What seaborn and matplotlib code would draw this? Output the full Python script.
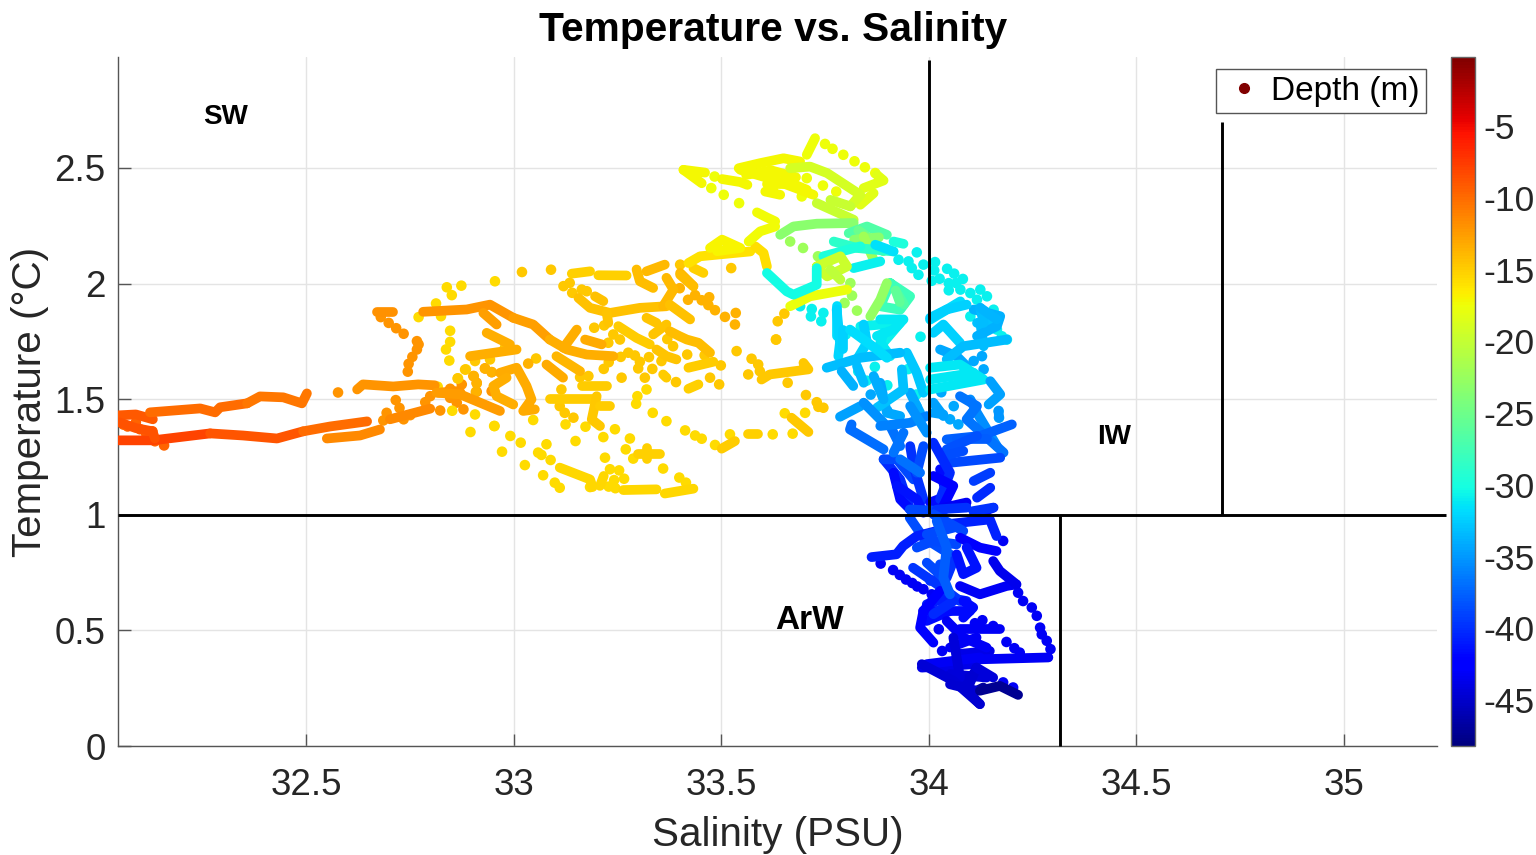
import numpy as np
import pandas as pd
import matplotlib
matplotlib.use("Agg")
import matplotlib.pyplot as plt
import seaborn as sns
from matplotlib.colors import Normalize
from matplotlib.cm import ScalarMappable
from matplotlib.lines import Line2D
from matplotlib.transforms import ScaledTranslation

# tick labels
sal_ticks = [32.5, 33, 33.5, 34, 34.5, 35]
sal_tick_labels = ["32.5", "33", "33.5", "34", "34.5", "35"]
temp_ticks = [0, 0.5, 1, 1.5, 2, 2.5]
temp_tick_labels = ["0", "0.5", "1", "1.5", "2", "2.5"]
depth_ticks = [-5, -10, -15, -20, -25, -30, -35, -40, -45]
depth_min = -48.4
depth_max = -0.4

# water mass boundaries
bound_h_sal = [32.047, 35.246]
bound_h_temp = [1, 1]
bound_sw_sal = [34, 34]
bound_sw_temp = [1, 2.968]
bound_arw_sal = [34.316, 34.316]
bound_arw_temp = [0, 1]
bound_iw_sal = [34.706, 34.706]
bound_iw_temp = [1, 2.70]

# single casts
orange_sal = [32.577, 32.686, 32.694, 32.716, 32.725, 32.735, 32.751, 32.787, 32.799, 32.823, 32.847, 32.847, 32.875,
              32.871, 32.863, 32.879, 32.903, 32.911, 32.911, 32.931, 32.947, 32.947, 32.98, 32.767, 32.771, 32.767,
              32.756, 32.747, 32.745, 32.735, 32.717, 32.699, 32.68]
orange_temp = [1.529, 1.408, 1.441, 1.496, 1.462, 1.413, 1.431, 1.487, 1.513, 1.451, 1.545, 1.506, 1.564,
               1.528, 1.485, 1.456, 1.600, 1.571, 1.532, 1.633, 1.617, 1.535, 1.722, 1.751, 1.737, 1.715,
               1.683, 1.653, 1.619, 1.783, 1.807, 1.830, 1.855]
red_sal = [32.05, 32.07, 32.09, 32.1, 32.13, 32.136, 32.158, 32.06, 32.115]
red_temp = [1.40, 1.382, 1.40, 1.37, 1.361, 1.318, 1.30, 1.39, 1.35]

yellow_sal = [32.839, 32.851, 32.874, 32.955, 32.813, 32.771, 32.825, 32.847, 32.847, 32.837, 32.845, 32.885, 32.866,
              32.817, 32.852, 32.907, 32.896, 32.954, 32.972, 32.992, 33.017, 33.047, 32.953, 33.027, 33.079, 33.071,
              33.099, 33.111, 33.059, 33.067, 33.089, 33.125, 33.173, 33.244, 33.216, 33.28, 33.149, 33.27, 33.22,
              33.288, 33.36, 33.232, 33.254, 33.242, 33.266, 33.229, 33.245, 33.399, 33.415, 33.184, 33.453, 33.437,
              33.413, 33.368, 33.335, 33.295, 33.298, 33.32, 33.485, 33.521, 33.624, 33.672, 33.653, 33.702]
yellow_temp = [1.984, 1.950, 1.991, 2.01, 1.914, 1.855, 1.859, 1.796, 1.748, 1.715, 1.667, 1.629, 1.590,
               1.554, 1.450, 1.434, 1.358, 1.384, 1.273, 1.341, 1.312, 1.41, 1.384, 1.215, 1.305, 1.171,
               1.139, 1.117, 1.269, 1.259, 1.237, 1.391, 1.381, 1.37, 1.336, 1.33, 1.319, 1.283, 1.247,
               1.243, 1.2, 1.197, 1.192, 1.15, 1.156, 1.122, 1.115, 1.161, 1.139, 1.12, 1.329, 1.343,
               1.365, 1.405, 1.441, 1.48, 1.513, 1.542, 1.302, 1.348, 1.348, 1.351, 1.439, 1.441]

gold_sal = [33.12, 33.135, 33.141, 33.164, 33.176, 33.194, 33.218, 33.24, 33.256, 33.228, 33.229, 33.217, 33.276,
            33.292, 33.258, 33.326, 33.304, 33.3, 33.334, 33.316, 33.26, 33.356, 33.391, 33.473, 33.495, 33.499,
            33.565, 33.537, 33.573, 33.589, 33.593, 33.632, 33.66, 33.704, 33.73, 33.746, 33.734, 33.16, 33.18,
            32.979, 33.054, 32.883, 32.865, 32.943, 32.907, 33.384, 33.418, 33.115, 33.111, 33.123, 33.144,
            33.401, 33.524, 33.636, 33.652, 33.632, 33.02, 33.09, 33.37, 33.46]
gold_temp = [1.989, 2.003, 1.96, 1.974, 1.967, 1.809, 1.819, 1.78, 1.758, 1.744, 1.66, 1.631, 1.701,
             1.689, 1.683, 1.682, 1.662, 1.633, 1.631, 1.593, 1.593, 1.665, 1.574, 1.593, 1.564, 1.646,
             1.607, 1.708, 1.675, 1.650, 1.621, 1.758, 1.571, 1.518, 1.487, 1.463, 1.467, 1.595, 1.6,
             1.722, 1.676, 1.628, 1.59, 1.672, 1.665, 1.729, 1.693, 1.542, 1.470, 1.441, 1.42,
             2.082, 2.067, 1.837, 1.87, 1.758, 2.05, 2.06, 1.76, 1.69]
dark_gold_sal = [33.437, 33.453, 33.471, 33.469, 33.485, 33.509, 33.535, 33.533, 33.035, 32.931, 32.947, 32.904,
                 32.911, 32.909, 33.4, 33.42]
dark_gold_temp = [1.95, 1.928, 1.941, 1.907, 1.885, 1.856, 1.873, 1.823, 1.654, 1.633, 1.617, 1.6,
                  1.568, 1.532, 1.98, 1.93]

top_yellow_sal = [33.484, 33.476, 33.543, 33.506, 33.694, 33.745, 33.777, 33.75, 33.768, 33.794, 33.821, 33.846,
                  33.871, 33.706]
top_yellow_temp = [2.463, 2.413, 2.348, 2.384, 2.377, 2.424, 2.398, 2.604, 2.583, 2.557, 2.529, 2.503,
                   2.478, 2.456]
green_sal = [33.666, 33.697, 33.733, 33.797, 33.827, 33.811, 33.815]
green_temp = [2.182, 2.154, 2.118, 1.916, 1.883, 2.002, 1.948]

cyan_sal = [33.927, 33.951, 33.971, 33.959, 33.975, 33.987, 34.015, 34.013, 34.044, 34.026, 34.061, 34.048, 34.082,
            34.066, 34.048, 34.007, 33.69, 33.718, 33.716, 33.746, 33.741, 34.124, 34.116, 34.14, 34.156, 34.164,
            34.1, 34.076, 34.1, 34.188, 34.164, 34.176, 33.8, 33.83, 33.85, 33.87, 33.9, 33.95, 33.97, 33.98]
cyan_temp = [2.103, 2.096, 2.135, 2.067, 2.038, 2.082, 2.093, 2.057, 2.064, 2.021, 2.043, 2.002, 2.02,
             2.002, 1.971, 2.012, 1.902, 1.89, 1.858, 1.873, 1.837, 1.974, 1.93, 1.945, 1.887, 1.844,
             1.858, 1.974, 1.959, 1.758, 1.801, 1.772, 1.78, 1.62, 1.58, 1.64, 1.56, 1.63, 1.52, 1.77]
sky_sal = [34.051, 34.071, 34.108, 34.128, 34.132, 34.168, 34.169, 33.9, 33.86, 33.97, 34.03, 34.06]
sky_temp = [1.413, 1.391, 1.665, 1.686, 1.629, 1.449, 1.42, 1.45, 1.52, 1.47, 1.53, 1.47]
blue_sal = [34.179, 33.884, 33.914, 33.93, 33.945, 33.96, 33.972, 33.987, 34.007, 34.111, 34.129, 34.155, 34.024,
            34.032, 34.187, 34.206, 34.035, 34.179, 34.203, 34.215, 34.227, 34.248, 34.26, 34.268, 34.272,
            34.284, 34.293, 34.219]
blue_temp = [0.887, 0.789, 0.761, 0.74, 0.72, 0.705, 0.69, 0.678, 0.656, 0.531, 0.544, 0.519, 0.505,
             0.411, 0.45, 0.423, 0.311, 0.275, 0.253, 0.663, 0.627, 0.599, 0.563, 0.512, 0.483,
             0.455, 0.419, 0.404]

# thick runs of samples: (salinity, temperature, depth)
surface_tracks = [
    ([32.047, 32.131, 32.269], [1.322, 1.322, 1.352], -8.2),
    ([32.269, 32.348, 32.43, 32.493], [1.352, 1.343, 1.33, 1.361], -9.2),
    ([32.493, 32.558, 32.647], [1.361, 1.382, 1.404], -10.2),
    ([32.047, 32.09, 32.131], [1.43, 1.434, 1.413], -9.3),
    ([32.124, 32.245, 32.281, 32.293, 32.358], [1.443, 1.460, 1.443, 1.465, 1.482], -10.2),
    ([32.358, 32.389, 32.445, 32.49, 32.502], [1.482, 1.512, 1.508, 1.482, 1.525], -10.8),
    ([32.05, 32.09, 32.13, 32.136], [1.40, 1.375, 1.361, 1.33], -9),
    ([32.55, 32.63, 32.678], [1.33, 1.343, 1.369], -11.7),
    ([32.623, 32.637, 32.71, 32.77, 32.81], [1.542, 1.564, 1.555, 1.564, 1.56], -12.4),
    ([32.67, 32.71], [1.878, 1.878], -12.2),
    ([32.702, 32.799], [1.413, 1.459], -11.8),
    ([32.819, 32.863], [1.528, 1.535], -12.2),
]
shelf_tracks = [
    ([32.782, 32.887, 32.943, 32.999], [1.878, 1.888, 1.909, 1.852], -12.4),
    ([32.999, 33.047, 33.087], [1.852, 1.823, 1.758], -12.8),
    ([33.087, 33.128, 33.176, 33.24], [1.758, 1.715, 1.693, 1.686], -13.6),
    ([33.152, 33.12], [1.801, 1.722], -13.6),
    ([32.895, 33.007], [1.686, 1.715], -13.6),
    ([32.814, 32.871, 32.967], [1.528, 1.521, 1.449], -12.6),
    ([32.935, 32.991], [1.787, 1.737], -13.6),
    ([33.079, 33.119], [1.650, 1.593], -13.4),
    ([33.103, 33.16], [1.686, 1.621], -14),
    ([33.172, 33.212], [1.758, 1.737], -13.4),
    ([32.967, 33.007, 33.031, 33.043, 33.023, 33.051], [1.614, 1.636, 1.557, 1.499, 1.449, 1.456], -13.4),
    ([32.999, 32.959, 32.951, 32.983], [1.477, 1.513, 1.557, 1.593], -13.6),
    ([32.927, 32.959], [1.873, 1.823], -12.8),
    ([33.14, 33.184], [2.043, 2.053], -15.4),
    ([33.204, 33.272], [2.036, 2.035], -15.4),
    ([33.32, 33.364], [2.053, 2.082], -14.2),
    ([33.156, 33.184, 33.232, 33.304, 33.368], [1.938, 1.895, 1.873, 1.895, 1.902], -14.6),
    ([33.296, 33.304, 33.336], [2.061, 2.01, 1.981], -14.3),
    ([33.368, 33.385, 33.36], [2.025, 1.974, 1.902], -14.2),
    ([33.401, 33.433], [2.046, 1.989], -14.1),
    ([33.376, 33.425], [1.909, 1.845], -14.5),
    ([33.196, 33.216], [1.945, 1.924], -14.5),
    ([33.224, 33.228], [1.873, 1.83], -14.7),
    ([33.252, 33.296, 33.328], [1.816, 1.765, 1.737], -15.2),
    ([33.336, 33.368], [1.78, 1.823], -14.7),
    ([33.344, 33.32], [1.83, 1.852], -14.7),
    ([33.376, 33.399, 33.417, 33.445, 33.473], [1.794, 1.773, 1.758, 1.744, 1.701], -14.3),
    ([33.344, 33.368, 33.392], [1.715, 1.686, 1.672], -14.7),
    ([33.421, 33.481], [1.636, 1.662], -15.2),
    ([33.36, 33.368], [1.607, 1.593], -15.2),
    ([33.421, 33.445], [1.545, 1.564], -15.4),
    ([33.597, 33.617, 33.71, 33.698], [1.585, 1.607, 1.629, 1.657], -15),
    ([33.669, 33.71], [1.420, 1.358], -15),
    ([33.565, 33.589], [1.348, 1.348], -15.4),
    ([33.501, 33.533], [1.286, 1.319], -15.2),
    ([33.087, 33.192], [1.499, 1.499], -15.1),
    ([33.164, 33.224], [1.557, 1.557], -15.1),
    ([33.2, 33.188, 33.208], [1.513, 1.412, 1.384], -15),
    ([33.208, 33.232], [1.470, 1.470], -15.1),
    ([33.32, 33.32], [1.29, 1.24], -15.4),
    ([33.3, 33.352], [1.261, 1.261], -15.4),
    ([33.111, 33.184, 33.19], [1.204, 1.153, 1.12], -15.6),
    ([33.208, 33.217], [1.125, 1.168], -15.6),
    ([33.264, 33.344], [1.107, 1.11], -15.7),
    ([33.364, 33.433], [1.092, 1.113], -15.7),
]
warm_tracks = [
    ([33.401, 33.433], [2.038, 1.988], -14.3),
    ([33.433, 33.457], [2.067, 2.046], -15.4),
    ([33.421, 33.449, 33.57], [2.089, 2.118, 2.139], -16.2),
    ([33.473, 33.502, 33.546, 33.49], [2.154, 2.19, 2.154, 2.14], -17.2),
    ([33.582, 33.602, 33.61], [2.161, 2.132, 2.074], -16),
    ([33.566, 33.594, 33.63], [2.182, 2.226, 2.247], -17.6),
    ([33.63, 33.61, 33.586], [2.269, 2.286, 2.308], -17.6),
    ([33.409, 33.453], [2.492, 2.434], -17.3),
    ([33.409, 33.461], [2.492, 2.48], -17.3),
    ([33.502, 33.546, 33.563], [2.452, 2.439, 2.427], -17.3),
    ([33.542, 33.594, 33.65, 33.69], [2.499, 2.521, 2.542, 2.528], -17.4),
    ([33.546, 33.626, 33.69, 33.722], [2.492, 2.449, 2.406, 2.384], -17.4),
    ([33.56, 33.62, 33.68], [2.47, 2.49, 2.46], -17.4),
    ([33.61, 33.67], [2.43, 2.43], -17.4),
    ([33.606, 33.642], [2.398, 2.384], -17.4),
    ([33.618, 33.626], [2.463, 2.398], -17.4),
    ([33.658, 33.706], [2.442, 2.406], -17.4),
    ([33.706, 33.726], [2.557, 2.629], -17.8),
    ([33.875, 33.891, 33.843], [2.47, 2.446, 2.413], -18.5),
    ([33.835, 33.867], [2.341, 2.391], -18.5),
    ([33.666, 33.714, 33.755, 33.835, 33.811], [2.499, 2.506, 2.478, 2.384, 2.334], -19.3),
    ([33.763, 33.811], [2.362, 2.334], -20),
    ([33.730, 33.819], [2.348, 2.276], -20),
    ([33.642, 33.674, 33.73, 33.819], [2.211, 2.247, 2.259, 2.262], -23.5),
    ([33.807, 33.851, 33.899], [2.218, 2.247, 2.211], -27),
    ([33.83, 33.87, 33.89], [2.23, 2.18, 2.14], -25.5),
    ([33.82, 33.88], [2.19, 2.2], -23.5),
    ([33.843, 33.867], [2.204, 2.103], -22.3),
    ([33.771, 33.827, 33.915], [2.182, 2.154, 2.139], -29),
    ([33.871, 33.915], [2.168, 2.139], -31.8),
    ([33.915, 33.939], [2.182, 2.172], -30),
    ([33.746, 33.835], [2.118, 2.161], -30),
    ([33.819, 33.883], [2.067, 2.096], -31),
    ([33.730, 33.787, 33.803, 33.755, 33.730], [2.074, 2.118, 2.074, 2.031, 2.074], -19.8),
    ([33.787, 33.763], [2.017, 2.06], -20.5),
    ([33.666, 33.714, 33.803], [1.902, 1.945, 1.974], -18),
    ([33.61, 33.658, 33.674, 33.73, 33.73], [2.046, 1.966, 1.952, 1.995, 2.067], -30.5),
    ([33.907, 33.955, 33.931, 33.883, 33.907], [2.002, 1.945, 1.887, 1.902, 2.002], -28),
    ([33.92, 33.94], [1.97, 1.91], -27),
    ([33.859, 33.883, 33.899], [1.858, 1.93, 2.002], -23),
    ([33.92, 33.93], [1.97, 1.92], -26),
]
mid_tracks = [
    ([33.779, 33.779], [1.902, 1.772], -32),
    ([33.835, 33.931, 33.883], [1.815, 1.83, 1.729], -31),
    ([34.003, 34.076], [1.844, 1.923], -32),
    ([34.116, 34.156], [1.83, 1.837], -33.3),
    ([34.124, 34.132], [1.83, 1.729], -33.5),
    ([33.778, 33.786, 33.782], [1.888, 1.744, 1.686], -32.3),
    ([33.794, 33.794], [1.801, 1.715], -32.5),
    ([33.843, 33.851, 33.827], [1.823, 1.744, 1.672], -32.5),
    ([33.891, 33.883, 33.907], [1.787, 1.744, 1.686], -31.5),
    ([33.947, 33.971, 33.987], [1.701, 1.614, 1.528], -33),
    ([33.883, 33.899, 33.931], [1.571, 1.441, 1.427], -34.5),
    ([33.955, 33.979], [1.528, 1.441], -34.5),
    ([33.827, 33.843], [1.643, 1.571], -33.5),
    ([34.011, 34.035], [1.441, 1.434], -34.8),
    ([34.116, 34.164, 34.172, 34.108], [1.773, 1.816, 1.859, 1.888], -34),
    ([34.027, 34.067, 34.091], [1.715, 1.686, 1.643], -34.5),
    ([34.1, 34.116, 34.164], [1.499, 1.441, 1.297], -35.8),
    ([33.907, 33.931], [1.384, 1.297], -37),
    ([33.754, 33.835, 33.931], [1.636, 1.679, 1.701], -33.5),
    ([33.79, 33.818], [1.621, 1.557], -34),
    ([33.875, 33.915, 33.939, 33.883], [1.773, 1.801, 1.845, 1.845], -31.5),
    ([33.81, 33.875, 33.899], [1.801, 1.715, 1.679], -32),
    ([33.935, 33.939, 33.875], [1.629, 1.542, 1.463], -33.3),
    ([33.835, 33.786], [1.47, 1.424], -34.8),
    ([33.867, 33.891], [1.6, 1.499], -34.3),
    ([33.843, 33.891], [1.485, 1.398], -35.5),
    ([33.814, 33.81, 33.891], [1.391, 1.369, 1.283], -37.3),
    ([33.883, 33.955, 33.995], [1.384, 1.398, 1.427], -36.3),
    ([33.955, 33.995], [1.47, 1.355], -35.5),
    ([34.003, 34.043, 34.091], [1.852, 1.888, 1.909], -32.5),
    ([34.011, 34.035, 34.075], [1.787, 1.823, 1.744], -32.5),
    ([34.043, 34.083, 34.188], [1.672, 1.729, 1.758], -33.5),
    ([34.124, 34.132], [1.895, 1.83], -33.5),
    ([34.124, 34.164], [1.895, 1.845], -33.8),
    ([34.003, 34.075, 34.132, 34.003], [1.636, 1.65, 1.585, 1.542], -31.5),
    ([34.003, 34.108], [1.585, 1.614], -31.5),
    ([34.148, 34.172, 34.144], [1.578, 1.521, 1.477], -34.8),
    ([34.168, 34.169], [1.449, 1.42], -35.3),
    ([34.075, 34.116, 34.091, 34.18], [1.513, 1.47, 1.413, 1.269], -36.8),
    ([34.2, 34.124, 34.043], [1.391, 1.341, 1.326], -37.8),
    ([34.067, 34.14], [1.326, 1.326], -38),
    ([34.011, 34.035], [1.485, 1.427], -34.8),
    ([34.043, 34.116], [1.283, 1.341], -38.5),
    ([34.051, 34.172], [1.225, 1.247], -39),
    ([34.035, 34.083], [1.254, 1.276], -38.8),
    ([34.108, 34.148], [1.146, 1.182], -39.5),
    ([34.116, 34.148], [1.074, 1.117], -40.5),
    ([34.124, 34.156], [1.009, 1.031], -41.5),
    ([33.891, 33.931, 33.955], [1.24, 1.153, 1.024], -40.5),
    ([33.891, 33.923, 33.963], [1.24, 1.24, 1.153], -39),
    ([33.915, 33.931, 33.963], [1.182, 1.067, 1.009], -42),
    ([33.955, 33.963, 33.987], [1.297, 1.211, 1.067], -40),
    ([34.027, 34.043, 34.003], [1.197, 1.081, 1.053], -42),
    ([33.987, 33.971], [1.297, 1.182], -38.8),
    ([34.011, 34.051, 34.027], [1.312, 1.182, 1.067], -40.5),
    ([33.923, 33.971, 33.987], [1.125, 1.067, 1.009], -41.5),
    ([34.011, 34.059, 34.035], [1.168, 1.125, 1.038], -42.5),
    ([34.019, 34.091], [1.024, 1.053], -43.5),
    ([33.931, 33.979], [1.24, 1.182], -37),
    ([33.915, 33.939], [1.269, 1.355], -36.8),
]
deep_tracks = [
    ([33.954, 34.035], [1.023, 1.016], -39),
    ([34.107, 34.155], [1.016, 1.031], -40),
    ([34.019, 34.091], [1.023, 1.031], -40),
    ([33.954, 33.987, 34.051], [0.987, 0.901, 0.829], -38.8),
    ([34.043, 34.147, 34.163], [0.959, 0.98, 0.908], -40.8),
    ([33.862, 33.922, 33.938, 33.971, 34.019], [0.817, 0.829, 0.865, 0.908, 0.93], -41),
    ([33.971, 34.011, 34.067], [0.858, 0.887, 0.872], -39),
    ([33.995, 34.059], [0.915, 0.944], -39),
    ([34.011, 34.083], [1.002, 0.93], -39),
    ([34.003, 34.043, 34.059], [0.714, 0.728, 0.8], -40),
    ([33.995, 34.043, 34.091], [0.613, 0.642, 0.627], -41),
    ([33.987, 34.027, 34.099], [0.584, 0.584, 0.584], -42),
    ([33.995, 34.051], [0.541, 0.584], -42),
    ([34.051, 34.115], [0.426, 0.469], -43.5),
    ([34.067, 34.147], [0.397, 0.411], -44),
    ([33.983, 34.107], [0.339, 0.354], -44),
    ([34.051, 34.139], [0.311, 0.296], -44.5),
    ([34.075, 34.107], [0.267, 0.311], -45),
    ([34.099, 34.131], [0.224, 0.253], -47),
    ([33.962, 34.043, 34.075], [0.771, 0.671, 0.627], -39.8),
    ([33.995, 34.035, 34.027], [0.793, 0.728, 0.786], -39),
    ([34.075, 34.123, 34.163], [0.901, 0.858, 0.843], -43),
    ([34.091, 34.115, 34.083, 34.067], [0.858, 0.771, 0.743, 0.829], -41.5),
    ([34.075, 34.123, 34.187, 34.211], [0.692, 0.656, 0.692, 0.699], -43.5),
    ([34.155, 34.171, 34.211], [0.8, 0.757, 0.699], -43.8),
    ([34.123, 34.288], [0.375, 0.383], -43.5),
    ([33.995, 34.123], [0.354, 0.383], -43.5),
    ([34.083, 34.107, 34.083], [0.627, 0.599, 0.555], -42),
    ([34.027, 33.987, 33.979, 34.011], [0.671, 0.584, 0.512, 0.447], -42.5),
    ([34.059, 34.011], [0.627, 0.570], -40.5),
    ([34.043, 34.083, 34.139], [0.541, 0.469, 0.426], -43.5),
    ([34.075, 34.171], [0.505, 0.505], -43.5),
    ([34.059, 34.075], [0.469, 0.296], -44.5),
    ([33.983, 34.059, 34.123], [0.354, 0.282, 0.181], -44.8),
    ([34.115, 34.091, 34.123], [0.339, 0.239, 0.181], -45),
    ([34.115, 34.155], [0.339, 0.296], -44.5),
    ([34.051, 34.115], [0.267, 0.239], -45),
    ([34.123, 34.171, 34.215], [0.239, 0.26, 0.221], -47.5),
    ([34.019, 34.043, 34.035, 34.051], [0.973, 0.858, 0.728, 0.656], -38),
]

dot_groups = [
    (orange_sal, orange_temp, -12.4),
    (red_sal, red_temp, -9.8),
    (yellow_sal, yellow_temp, -15.9),
    (gold_sal, gold_temp, -14.9),
    (dark_gold_sal, dark_gold_temp, -13.8),
    (top_yellow_sal, top_yellow_temp, -17.8),
    (green_sal, green_temp, -22.5),
    (cyan_sal, cyan_temp, -31),
    (sky_sal, sky_temp, -34.5),
    (blue_sal, blue_temp, -43.5),
]

df = pd.concat([pd.DataFrame({"sal": s, "temp": t, "depth": d}) for s, t, d in dot_groups], ignore_index=True)

sns.set_theme(style="whitegrid", rc={"grid.color": "#e4e4e4", "grid.linewidth": 1.0})
plt.rcParams["font.family"] = ["Liberation Sans", "DejaVu Sans"]
text_col = "#262626"

fig = plt.figure(figsize=(15.36, 8.55), dpi=100, facecolor="white")
ax = fig.add_axes([118 / 1536, 1 - 746 / 855, (1437 - 118) / 1536, (746 - 57) / 855])
norm = Normalize(depth_min, depth_max)
cmap = plt.get_cmap("jet")

sns.scatterplot(data=df, x="sal", y="temp", hue="depth", palette=cmap, hue_norm=norm, s=58, linewidth=0,
                legend=False, ax=ax, zorder=2)
for tracks in [surface_tracks, shelf_tracks, warm_tracks, mid_tracks, deep_tracks]:
    for sal, temp, depth in tracks:
        sns.lineplot(x=sal, y=temp, color=cmap(norm(depth)), sort=False, estimator=None, errorbar=None, lw=7,
                     solid_capstyle="round", solid_joinstyle="round", ax=ax, zorder=3)

# water mass boundaries
for xs, ys in [(bound_h_sal, bound_h_temp), (bound_sw_sal, bound_sw_temp),
               (bound_arw_sal, bound_arw_temp), (bound_iw_sal, bound_iw_temp)]:
    ax.plot(xs, ys, color="black", lw=2.1, clip_on=False, zorder=5, solid_capstyle="butt")

ax.set_xlim(32.047, 35.224)
ax.set_ylim(0, 2.98)
ax.set_xticks(sal_ticks, sal_tick_labels)
ax.set_yticks(temp_ticks, temp_tick_labels)
ax.tick_params(axis="both", direction="in", length=9, width=1, color="#555555", labelsize=26.5,
               labelcolor=text_col, top=False, right=False, left=True, bottom=True)
ax.tick_params(axis="x", pad=15.5)
ax.tick_params(axis="y", pad=9)
ax.grid(True)
ax.set_axisbelow(True)
for side in ["top", "right"]:
    ax.spines[side].set_visible(False)
for side in ["left", "bottom"]:
    ax.spines[side].set_color("#555555")
    ax.spines[side].set_linewidth(1.0)

ax.set_xlabel("Salinity (PSU)", fontsize=29.1, color=text_col, labelpad=10)
ax.set_ylabel("Temperature (°C)", fontsize=29.1, color=text_col, labelpad=4)
fig.text(773 / 1536, 1 - 30 / 855, "Temperature vs. Salinity", fontsize=29.3, fontweight="bold", color="black",
         ha="center", va="center")

ax.text(32.306, 2.72, "SW", fontsize=20, fontweight="bold", color="black", ha="center", va="center")
ax.text(34.447, 1.337, "IW", fontsize=20, fontweight="bold", color="black", ha="center", va="center")
ax.text(33.713, 0.543, "ArW", fontsize=24, fontweight="bold", color="black", ha="center", va="center")

handle = Line2D([], [], linestyle="none", marker="o", markersize=7, color="#800000")
leg = ax.legend(handles=[handle], labels=["Depth (m)"], loc="upper right", bbox_to_anchor=(1308 / 1319, 1 - 12 / 689),
                fontsize=24, frameon=True, fancybox=False, framealpha=1, edgecolor="#555555", borderpad=0.2,
                handletextpad=0.18, handlelength=1.25, borderaxespad=0)
leg.get_texts()[0].set_color("black")
leg.get_frame().set_linewidth(1.0)
leg.set_zorder(6)

cax = fig.add_axes([1451 / 1536, 1 - 746 / 855, 24 / 1536, (746 - 57) / 855])
cb = fig.colorbar(ScalarMappable(norm=norm, cmap=cmap), cax=cax)
cb.set_ticks(depth_ticks)
cb.set_ticklabels([str(v) for v in depth_ticks])
cb.ax.tick_params(direction="in", length=4, width=1, color="#444444", labelsize=25.5, labelcolor=text_col, pad=6,
                  left=False, right=True)
shift = ScaledTranslation(0, -3 / 100, fig.dpi_scale_trans)
for lab in cb.ax.get_yticklabels():
    lab.set_transform(lab.get_transform() + shift)
cb.outline.set_edgecolor("#666666")
cb.outline.set_linewidth(1.0)
cb.ax.grid(False)

fig.savefig("out.png", dpi=100)
